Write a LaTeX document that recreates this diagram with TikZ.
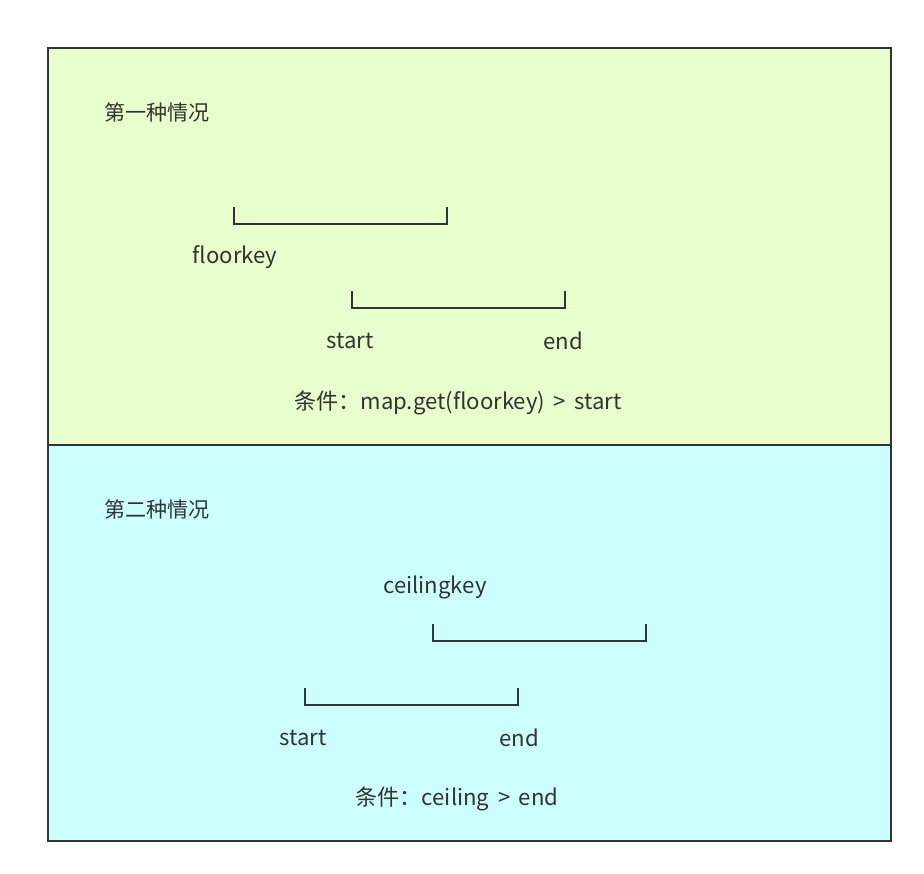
\documentclass[tikz,border=0pt]{standalone}
\usepackage{fontspec}
\setmainfont{Noto Sans CJK SC}
\definecolor{linegray}{HTML}{333333}
\definecolor{greenbg}{HTML}{E6FFCC}
\definecolor{cyanbg}{HTML}{CCFFFF}
\begin{document}
\begin{tikzpicture}[
    x=0.02cm,y=-0.02cm,
    panel/.style={draw=linegray,line width=1.1pt},
    bracket/.style={draw=linegray,line width=1pt},
    txt/.style={font=\fontsize{12.6}{15}\selectfont,text=linegray,inner sep=0pt},
    title/.style={font=\fontsize{12}{14}\selectfont,text=linegray,inner sep=0pt}
]
\useasboundingbox (0,0) rectangle (924,874);
\fill[white] (0,0) rectangle (924,874);

% first case
\draw[panel,fill=greenbg] (48,48) rectangle (891,445);
\node[title] (title1) at (157,112) {第一种情况};
\draw[bracket] (234,207) -- (234,224) -- (447,224) -- (447,207);
\node[txt] (floor) at (235,257) {floorkey};
\draw[bracket] (352,291) -- (352,308) -- (565,308) -- (565,291);
\node[txt] (start1) at (350,341) {start};
\node[txt] (end1)   at (563,341) {end};
\node[txt] (cond1)  at (458,403) {条件：map.get(floorkey)\ \,>\,\ start};

% second case
\draw[panel,fill=cyanbg] (48,445) rectangle (891,841);
\node[title] (title2) at (157,509) {第二种情况};
\node[txt] (ceil) at (435,587) {ceilingkey};
\draw[bracket] (433,624) -- (433,641) -- (646,641) -- (646,624);
\draw[bracket] (305,688) -- (305,705) -- (518,705) -- (518,688);
\node[txt] (start2) at (303,738) {start};
\node[txt] (end2)   at (519,738) {end};
\node[txt] (cond2)  at (457,799) {条件：ceiling\ \,>\,\ end};
\end{tikzpicture}
\end{document}
